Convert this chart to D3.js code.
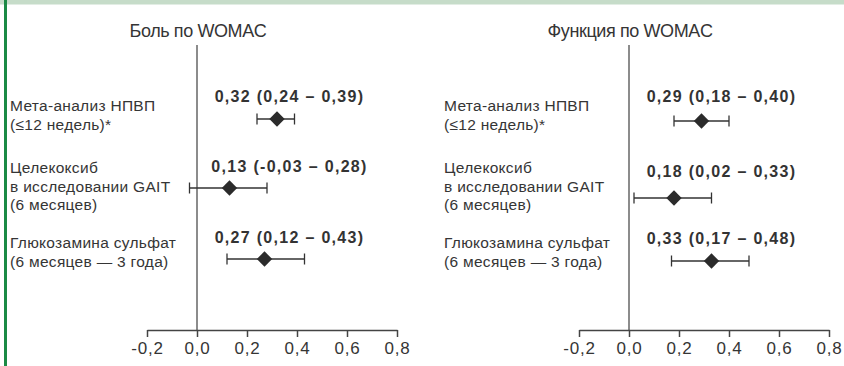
<!DOCTYPE html>
<html><head><meta charset="utf-8">
<script src="https://cdn.jsdelivr.net/npm/d3@7"></script>
<style>
html,body{margin:0;padding:0;background:#fff;}
svg{display:block;}
</style></head>
<body>
<svg id="c" width="844" height="366"></svg>
<script>
// ---- data ----
const categories = [
  ["Мета-анализ НПВП", "(≤12 недель)*"],
  ["Целекоксиб", "в исследовании GAIT", "(6 месяцев)"],
  ["Глюкозамина сульфат", "(6 месяцев — 3 года)"]
];
const panelTitles = ["Боль по WOMAC", "Функция по WOMAC"];
const painEst  = [0.32, 0.13, 0.27];
const painLow  = [0.24, -0.03, 0.12];
const painHigh = [0.39, 0.28, 0.43];
const funcEst  = [0.29, 0.18, 0.33];
const funcLow  = [0.18, 0.02, 0.17];
const funcHigh = [0.40, 0.33, 0.48];
const tickValues = [-0.2, 0.0, 0.2, 0.4, 0.6, 0.8];
const tickLabels = ["-0,2", "0,0", "0,2", "0,4", "0,6", "0,8"];

// ---- layout ----
const svg = d3.select("#c");
const txt = "#353535";
const font = "Liberation Sans, Arial, sans-serif";
const fmt = v => (v < 0 ? "-" : "") + Math.abs(v).toFixed(2).replace(".", ",");

svg.append("rect").attr("x",0).attr("y",0).attr("width",844).attr("height",4.5).attr("fill","#c6dcc9");
svg.append("rect").attr("x",4).attr("y",0).attr("width",3).attr("height",366).attr("fill","#1b8a45");

const panels = [
  {title: panelTitles[0], est: painEst, lo: painLow, hi: painHigh, range: [147, 397], labelX: 10,
   barY: [119, 188, 259], valY: [96, 166, 237]},
  {title: panelTitles[1], est: funcEst, lo: funcLow, hi: funcHigh, range: [579, 829], labelX: 444,
   barY: [121, 198, 261], valY: [96, 171, 238]}
];
const labelFirstY = [106, 168, 243];
const lineH = 18.5;
const axisY = 330, zeroTop = 45;

panels.forEach(p => {
  const x = d3.scaleLinear().domain([-0.2, 0.8]).range(p.range);
  const g = svg.append("g");

  // title
  g.append("text").attr("x", x(0)+1).attr("y", 31).attr("dy","0.35em")
    .attr("text-anchor","middle").attr("font-family",font)
    .attr("font-size",18).attr("fill",txt).attr("letter-spacing","-0.4px").text(p.title);

  // zero line
  g.append("line").attr("x1", x(0)).attr("x2", x(0)).attr("y1", zeroTop).attr("y2", axisY)
    .attr("stroke","#666").attr("stroke-width",1.5);

  // axis
  const axis = d3.axisBottom(x).tickValues(tickValues).tickSize(7).tickSizeOuter(0)
    .tickFormat((d,i) => tickLabels[i]);
  const ag = g.append("g").attr("transform", `translate(0,${axisY})`).call(axis);
  ag.select(".domain").attr("stroke","#444").attr("stroke-width",1.5);
  ag.selectAll(".tick line").attr("stroke","#444").attr("stroke-width",1.5);
  ag.selectAll(".tick text").attr("font-family",font)
    .attr("font-size",17).attr("fill",txt).attr("letter-spacing","0.8px").attr("y",12).attr("dy","0.71em");

  // category labels
  categories.forEach((lines, i) => {
    const t = g.append("text").attr("font-family",font)
      .attr("font-size",15.5).attr("fill",txt).attr("letter-spacing","0.3px");
    lines.forEach((ln, j) => {
      t.append("tspan").attr("x", p.labelX).attr("y", labelFirstY[i] + j*lineH).attr("dy","0.35em").text(ln);
    });
  });

  // rows
  p.est.forEach((e, i) => {
    const y = p.barY[i];
    g.append("line").attr("x1", x(p.lo[i])).attr("x2", x(p.hi[i])).attr("y1", y).attr("y2", y)
      .attr("stroke","#333").attr("stroke-width",1.3);
    [p.lo[i], p.hi[i]].forEach(v => {
      g.append("line").attr("x1", x(v)).attr("x2", x(v)).attr("y1", y-5.5).attr("y2", y+5.5)
        .attr("stroke","#333").attr("stroke-width",1.3);
    });
    g.append("path").attr("d", d3.symbol(d3.symbolSquare, 118)())
      .attr("transform", `translate(${x(e)},${y}) rotate(45)`).attr("fill","#2b2b2b");
    g.append("text").attr("x", x(0.37)).attr("y", p.valY[i]).attr("dy","0.35em")
      .attr("text-anchor","middle").attr("font-family",font)
      .attr("font-weight","bold").attr("font-size",16).attr("letter-spacing","1.3px").attr("fill","#333")
      .text(`${fmt(e)} (${fmt(p.lo[i])} – ${fmt(p.hi[i])})`);
  });
});
</script>
</body></html>
